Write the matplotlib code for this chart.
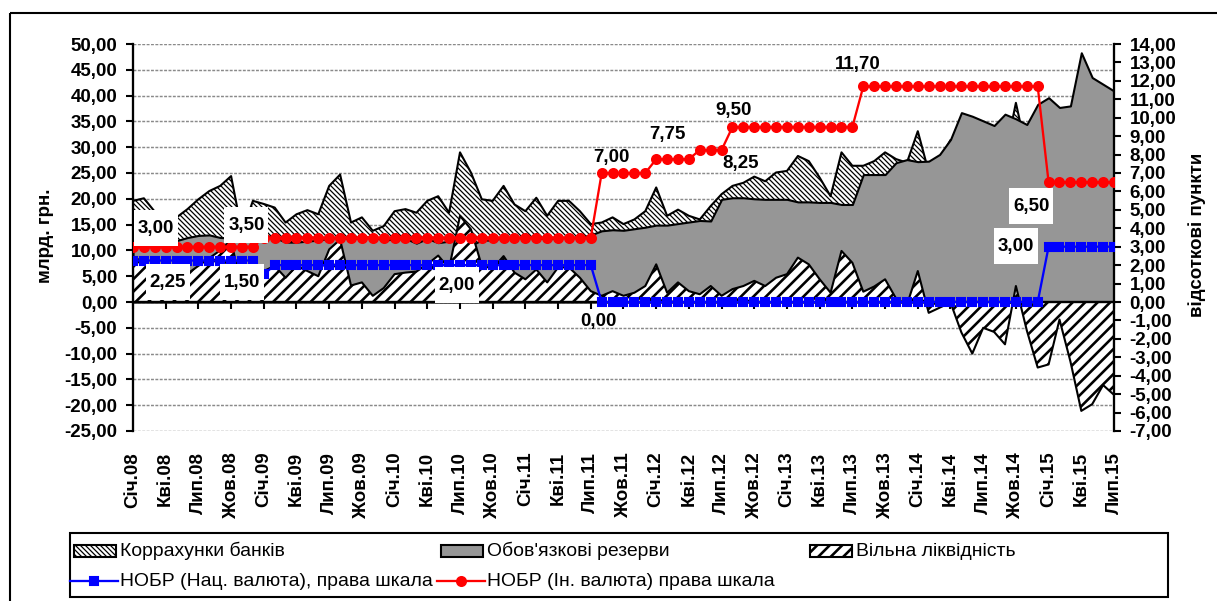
import matplotlib
matplotlib.use("Agg")
import matplotlib.pyplot as plt
import numpy as np
from matplotlib.patches import Rectangle
from matplotlib.lines import Line2D

# monthly data, Січ.2008 .. Лип.2015 (91 points)
corr_accounts = [
    19.6, 20.1, 17.5, 17.0, 16.4, 18.0, 19.9, 21.5, 22.5, 24.4, 13.5, 19.6,
    19.0, 18.3, 15.4, 17.0, 17.8, 17.0, 22.5, 24.7, 15.4, 16.4, 13.8, 14.7,
    17.6, 18.0, 17.3, 19.6, 20.5, 17.3, 29.0, 25.1, 19.9, 19.6, 22.5, 18.9,
    17.6, 20.2, 16.7, 19.6, 19.6, 17.6, 15.1, 15.4, 16.4, 15.1, 16.0, 17.6,
    22.2, 16.7, 17.9, 16.7, 16.0, 18.6, 20.9, 22.5, 23.1, 24.3, 23.4, 25.1,
    25.4, 28.3, 27.3, 24.1, 20.5, 29.0, 26.4, 26.4, 27.3, 29.0, 27.7, 27.0,
    33.1, 25.2, 27.5, 31.4, 30.8, 26.0, 30.1, 28.4, 28.2, 38.6, 28.9, 25.6,
    27.5, 34.3, 26.5, 27.2, 23.7, 26.1, 22.9,
]
reserves = [
    11.1, 12.1, 12.5, 12.5, 11.9, 12.5, 12.9, 13.0, 12.5, 12.4, 11.5, 12.6,
    13.0, 12.5, 11.6, 11.6, 11.8, 12.0, 12.3, 12.6, 12.2, 12.6, 12.6, 12.0,
    12.2, 12.3, 11.4, 12.3, 11.5, 11.8, 12.3, 11.0, 12.0, 12.0, 12.5, 12.5,
    12.6, 12.5, 12.2, 12.4, 12.6, 12.5, 13.0, 13.8, 14.0, 13.9, 14.2, 14.5,
    14.9, 14.9, 15.2, 15.5, 15.8, 15.7, 19.9, 20.2, 20.2, 20.0, 19.9, 19.9,
    19.9, 19.4, 19.4, 19.3, 19.3, 18.9, 18.9, 24.7, 24.7, 24.7, 27.0, 27.6,
    27.2, 27.3, 28.6, 31.5, 36.7, 36.0, 35.1, 34.2, 36.4, 35.5, 34.4, 38.3,
    39.6, 37.7, 38.0, 48.3, 43.5, 42.2, 40.9,
]
free_liquidity = [
    8.5, 8.0, 5.0, 4.5, 4.5, 5.5, 7.0, 8.5, 10.0, 12.0, 2.0, 7.0,
    6.0, 7.0, 4.7, 7.0, 6.0, 5.0, 10.2, 12.1, 3.2, 3.8, 1.2, 2.7,
    5.4, 5.7, 5.9, 7.3, 9.0, 6.5, 16.7, 14.1, 7.0, 6.5, 8.9, 5.7,
    4.4, 6.3, 3.8, 6.7, 6.7, 4.7, 2.1, 1.2, 2.1, 1.2, 1.8, 3.1,
    7.3, 1.8, 3.8, 2.1, 1.5, 3.1, 1.2, 2.5, 3.1, 4.1, 3.1, 4.7,
    5.4, 8.6, 7.3, 4.4, 1.8, 9.9, 7.6, 2.0, 3.0, 4.4, 0.7, -0.6,
    6.0, -2.1, -1.1, -0.1, -5.9, -10.0, -5.0, -5.8, -8.2, 3.1, -5.5, -12.7,
    -12.1, -3.4, -11.5, -21.1, -19.8, -16.1, -18.0,
]
rate_nat = [
    2.25, 2.25, 2.25, 2.25, 2.25, 2.25, 2.25, 2.25, 2.25, 2.25, 2.25, 2.25,
    1.50, 2.00, 2.00, 2.00, 2.00, 2.00, 2.00, 2.00, 2.00, 2.00, 2.00, 2.00,
    2.00, 2.00, 2.00, 2.00, 2.00, 2.00, 2.00, 2.00, 2.00, 2.00, 2.00, 2.00,
    2.00, 2.00, 2.00, 2.00, 2.00, 2.00, 2.00, 0.00, 0.00, 0.00, 0.00, 0.00,
    0.00, 0.00, 0.00, 0.00, 0.00, 0.00, 0.00, 0.00, 0.00, 0.00, 0.00, 0.00,
    0.00, 0.00, 0.00, 0.00, 0.00, 0.00, 0.00, 0.00, 0.00, 0.00, 0.00, 0.00,
    0.00, 0.00, 0.00, 0.00, 0.00, 0.00, 0.00, 0.00, 0.00, 0.00, 0.00, 0.00,
    3.00, 3.00, 3.00, 3.00, 3.00, 3.00, 3.00,
]
rate_fx = [
    3.00, 3.00, 3.00, 3.00, 3.00, 3.00, 3.00, 3.00, 3.00, 3.00, 3.00, 3.00,
    3.50, 3.50, 3.50, 3.50, 3.50, 3.50, 3.50, 3.50, 3.50, 3.50, 3.50, 3.50,
    3.50, 3.50, 3.50, 3.50, 3.50, 3.50, 3.50, 3.50, 3.50, 3.50, 3.50, 3.50,
    3.50, 3.50, 3.50, 3.50, 3.50, 3.50, 3.50, 7.00, 7.00, 7.00, 7.00, 7.00,
    7.75, 7.75, 7.75, 7.75, 8.25, 8.25, 8.25, 9.50, 9.50, 9.50, 9.50, 9.50,
    9.50, 9.50, 9.50, 9.50, 9.50, 9.50, 9.50, 11.70, 11.70, 11.70, 11.70, 11.70,
    11.70, 11.70, 11.70, 11.70, 11.70, 11.70, 11.70, 11.70, 11.70, 11.70, 11.70, 11.70,
    6.50, 6.50, 6.50, 6.50, 6.50, 6.50, 6.50,
]
tick_labels = [
    "Січ.08", "Кві.08", "Лип.08", "Жов.08", "Січ.09", "Кві.09", "Лип.09", "Жов.09",
    "Січ.10", "Кві.10", "Лип.10", "Жов.10", "Січ.11", "Кві.11", "Лип.11", "Жов.11",
    "Січ.12", "Кві.12", "Лип.12", "Жов.12", "Січ.13", "Кві.13", "Лип.13", "Жов.13",
    "Січ.14", "Кві.14", "Лип.14", "Жов.14", "Січ.15", "Кві.15", "Лип.15",
]

plt.rcParams["font.family"] = ["Liberation Sans", "DejaVu Sans"]

W, H, DPI = 1218, 601, 150
FS = 9
fig = plt.figure(figsize=(W / DPI, H / DPI), dpi=DPI)
ax = fig.add_axes([133 / W, 1 - 431 / H, (1114 - 133) / W, (431 - 44) / H])
ax2 = ax.twinx()

x = np.arange(len(corr_accounts))
HATCH_CORR = "\\" * 10
HATCH_FREE = "////"
LW_CORR, LW_FREE = 0.6, 1.25
GRAY = "#969696"


def hatch_lw(artist, lw):
    # set hatch line width per artist, whichever way this matplotlib reads it
    if hasattr(artist, "set_hatch_linewidth"):
        artist.set_hatch_linewidth(lw)
    orig = artist.draw

    def draw(renderer):
        with plt.rc_context({"hatch.linewidth": lw}):
            orig(renderer)

    artist.draw = draw
    return artist


def area(y, face, hatch, hlw):
    with plt.rc_context({"hatch.linewidth": hlw}):
        coll = ax.fill_between(x, 0, y, facecolor=face, edgecolor="black",
                               hatch=hatch, linewidth=1.0, zorder=2)
    return hatch_lw(coll, hlw)


area(corr_accounts, "white", HATCH_CORR, LW_CORR)
area(reserves, GRAY, None, 1.0)
area(free_liquidity, "white", HATCH_FREE, LW_FREE)

fmt_axis = plt.FuncFormatter(lambda v, p: f"{v:.2f}".replace(".", ","))

ax.set_xlim(0, len(x) - 1)
ax.set_ylim(-25, 50)
ax.set_yticks(np.arange(-25, 51, 5))
ax.yaxis.set_major_formatter(fmt_axis)
ax.set_axisbelow(True)
ax.yaxis.grid(True, color="#8a8a8a", linestyle=(0, (2, 1)), linewidth=0.7)
for s in ["top", "right"]:
    ax.spines[s].set_visible(False)
ax.spines["left"].set_linewidth(1.1)
ax.spines["bottom"].set_position(("data", 0))
ax.spines["bottom"].set_linewidth(1.1)
ax.spines["bottom"].set_zorder(3)
ax.set_xticks(x[::3])
ax.tick_params(axis="x", direction="out", length=3.5, width=1.0, labelbottom=False)
ax.tick_params(axis="y", direction="out", length=3.5, width=1.0, pad=4, labelsize=FS)
for t in ax.get_yticklabels():
    t.set_fontweight("bold")

sec = ax.secondary_xaxis("bottom")
sec.set_xticks(x[::3], tick_labels)
sec.tick_params(length=0, pad=10, labelsize=FS, labelrotation=90)
sec.spines["bottom"].set_visible(False)
for t in sec.get_xticklabels():
    t.set_fontweight("bold")

ax2.plot(x, rate_nat, color="#0000ff", lw=1.1, marker="s", ms=3.9, zorder=4)
ax2.plot(x, rate_fx, color="#ff0000", lw=1.1, marker="o", ms=4.3, zorder=4)
ax2.set_ylim(-7, 14)
ax2.set_yticks(np.arange(-7, 15, 1))
ax2.yaxis.set_major_formatter(fmt_axis)
for s in ["top", "left", "bottom"]:
    ax2.spines[s].set_visible(False)
ax2.spines["right"].set_linewidth(1.1)
ax2.tick_params(axis="y", direction="out", length=3.5, width=1.0, pad=4, labelsize=FS)
for t in ax2.get_yticklabels():
    t.set_fontweight("bold")


def fmt(v):
    return f"{v:.2f}".replace(".", ",")


# data labels: (text, x, y on right axis, white box)
labels = [
    (fmt(rate_fx[0]), 2.1, 4.0, True),
    (fmt(rate_fx[12]), 10.4, 4.16, True),
    (fmt(rate_nat[0]), 3.2, 1.07, True),
    (fmt(rate_nat[12]), 10.0, 1.07, True),
    (fmt(rate_nat[13]), 29.7, 0.9, True),
    (fmt(rate_nat[43]), 42.7, -1.05, False),
    (fmt(rate_fx[43]), 43.9, 7.85, False),
    (fmt(rate_fx[48]), 49.0, 9.1, False),
    (fmt(rate_fx[52]), 55.7, 7.53, False),
    (fmt(rate_fx[55]), 55.1, 10.4, False),
    (fmt(rate_fx[67]), 66.5, 12.9, False),
    (fmt(rate_fx[84]), 82.4, 5.2, True),
    (fmt(rate_nat[84]), 81.0, 3.02, True),
]
box_w = 44 / 10.9   # label box, in category units
box_h = 36 / 18.43  # label box, in right-axis units
for txt, lx, ly, boxed in labels:
    if boxed:
        ax2.add_patch(Rectangle((lx - box_w / 2, ly - box_h / 2), box_w, box_h,
                                facecolor="white", edgecolor="none", zorder=5))
    ax2.text(lx, ly, txt, ha="center", va="center", fontsize=FS,
             fontweight="bold", zorder=6)

fig.text(46 / W, 1 - 236 / H, "млрд. грн.", rotation=90, ha="center", va="center",
         fontsize=FS, fontweight="bold")
fig.text(1197 / W, 1 - 235 / H, "відсоткові пункти", rotation=90, ha="center",
         va="center", fontsize=FS, fontweight="bold")

# chart frame and legend drawn in pixel coordinates
lax = fig.add_axes([0, 0, 1, 1])
lax.set_xlim(0, W)
lax.set_ylim(H, 0)
lax.axis("off")
lax.patch.set_visible(False)
lax.add_patch(Rectangle((10, 12.7), 1400, 800, fill=False, edgecolor="black",
                        lw=1.0, clip_on=False))
lax.add_patch(Rectangle((70, 533), 1098, 64, fill=False, edgecolor="black", lw=1.0))

row1, row2 = 551, 581
for px, face, hatch, hlw, label in [
    (74, "white", HATCH_CORR, LW_CORR, "Коррахунки банків"),
    (441, GRAY, None, 1.0, "Обов'язкові резерви"),
    (810, "white", HATCH_FREE, LW_FREE, "Вільна ліквідність"),
]:
    with plt.rc_context({"hatch.linewidth": hlw}):
        p = Rectangle((px, row1 - 6), 42, 12, facecolor=face, edgecolor="black",
                      hatch=hatch, lw=1.0)
    lax.add_patch(hatch_lw(p, hlw))
    lax.text(px + 46, row1, label, va="center", ha="left", fontsize=9.3)

for px, color, marker, ms, label in [
    (70, "#0000ff", "s", 3.9, "НОБР (Нац. валюта), права шкала"),
    (437, "#ff0000", "o", 4.3, "НОБР (Ін. валюта) права шкала"),
]:
    lax.add_line(Line2D([px, px + 48], [row2, row2], color=color, lw=1.1))
    lax.add_line(Line2D([px + 24], [row2], color=color, marker=marker, ms=ms))
    lax.text(px + 50, row2, label, va="center", ha="left", fontsize=9.3)

fig.savefig("out.png", dpi=DPI)
